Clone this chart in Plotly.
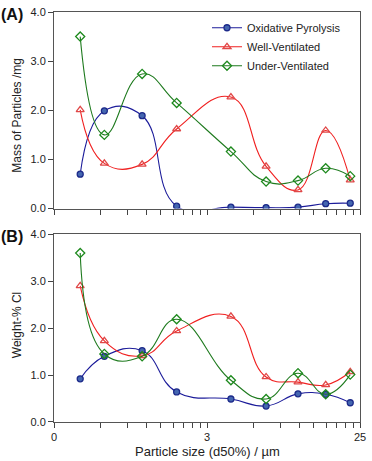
import plotly.graph_objects as go

# Data
sizes = [0.445, 0.64, 1.13, 1.9, 4.3, 7.3, 11.8, 17.9, 25.9]

mass_oxidative = [0.70, 1.99, 1.89, 0.05, 0.03, 0.02, 0.03, 0.10, 0.11]
mass_well = [2.01, 0.92, 0.90, 1.62, 2.27, 0.86, 0.38, 1.59, 0.58]
mass_under = [3.50, 1.50, 2.74, 2.15, 1.16, 0.55, 0.57, 0.82, 0.66]

cl_oxidative = [0.92, 1.40, 1.52, 0.64, 0.49, 0.34, 0.60, 0.59, 0.41]
cl_well = [2.90, 1.73, 1.41, 1.94, 2.25, 0.96, 0.85, 0.79, 1.07]
cl_under = [3.60, 1.45, 1.40, 2.19, 0.89, 0.49, 1.04, 0.59, 1.01]

series_names = ["Oxidative Pyrolysis", "Well-Ventilated", "Under-Ventilated"]
y_ticks = [0, 1, 2, 3, 4]
y_tick_text = ["0.0", "1.0", "2.0", "3.0", "4.0"]
x_major = [0.3, 3, 30]
x_major_text = ["0", "3", "25"]
x_minor = [0.6, 0.9, 1.2, 1.5, 1.8, 2.1, 2.4, 2.7, 6, 9, 12, 15, 18, 21, 24, 27]

styles = [
    dict(color="#1c1c9a", marker=dict(symbol="circle", size=6, color="#4466b0",
                                      line=dict(color="#1c2a8a", width=1.3))),
    dict(color="#f02020", marker=dict(symbol="triangle-up-open", size=7, color="#e04848",
                                      line=dict(width=1.3))),
    dict(color="#1e7a1e", marker=dict(symbol="diamond-open", size=7, color="#1e8a1e",
                                      line=dict(width=1.3))),
]

fig = go.Figure()
top = [mass_oxidative, mass_well, mass_under]
bot = [cl_oxidative, cl_well, cl_under]
for i, (name, st) in enumerate(zip(series_names, styles)):
    fig.add_trace(go.Scatter(
        x=sizes, y=top[i], name=name, mode="lines+markers",
        line=dict(color=st["color"], width=1.1, shape="spline", smoothing=1.3),
        marker=st["marker"], xaxis="x", yaxis="y", showlegend=True))
    fig.add_trace(go.Scatter(
        x=sizes, y=bot[i], name=name, mode="lines+markers",
        line=dict(color=st["color"], width=1.1, shape="spline", smoothing=1.3),
        marker=st["marker"], xaxis="x2", yaxis="y2", showlegend=False))

font = dict(family="Liberation Sans, Arial, sans-serif", size=11, color="#222")
axis_common = dict(showline=True, linecolor="#555", linewidth=1, mirror=True,
                   ticks="outside", ticklen=5, tickcolor="#444", showgrid=False,
                   zeroline=False)

# plot area: x 54..366, y 7..422 (px)
H = 415.0
fig.update_layout(
    width=372, height=461,
    margin=dict(l=54, r=6, t=7, b=39),
    paper_bgcolor="white", plot_bgcolor="white",
    font=font,
    showlegend=True,
    legend=dict(x=0.50, y=0.997, xanchor="left", yanchor="top",
                bgcolor="rgba(0,0,0,0)", font=dict(size=11, color="#222"),
                tracegroupgap=0, itemwidth=30),
    xaxis=dict(type="log", range=[-0.5229, 1.4771], domain=[0, 1], anchor="y",
               tickvals=x_major, ticktext=x_major_text, showticklabels=False,
               minor=dict(tickvals=x_minor, ticks="outside", ticklen=5, tickcolor="#444"),
               **axis_common),
    yaxis=dict(range=[0, 4], domain=[(422 - 206) / H, 1], anchor="x",
               tickvals=y_ticks, ticktext=y_tick_text, **axis_common),
    xaxis2=dict(type="log", range=[-0.5229, 1.4771], domain=[0, 1], anchor="y2",
                tickvals=x_major, ticktext=x_major_text,
                minor=dict(tickvals=x_minor, ticks="outside", ticklen=5, tickcolor="#444"),
                **axis_common),
    yaxis2=dict(range=[0, 4], domain=[0, (422 - 232) / H], anchor="x2",
                tickvals=y_ticks, ticktext=y_tick_text, **axis_common),
)

fig.add_annotation(text="<b>(A)</b>", x=0, y=1, xref="paper", yref="paper",
                   xanchor="left", yanchor="top", xshift=-55, yshift=8,
                   showarrow=False, font=dict(size=16, color="#111"))
fig.add_annotation(text="<b>(B)</b>", x=0, y=(422 - 232) / H, xref="paper", yref="paper",
                   xanchor="left", yanchor="top", xshift=-55, yshift=8,
                   showarrow=False, font=dict(size=16, color="#111"))
fig.add_annotation(text="Mass of Particles /mg", x=0, y=(422 - 112) / H, xref="paper", yref="paper",
                   xanchor="center", yanchor="middle", xshift=-37, textangle=-90,
                   showarrow=False, font=dict(size=12, color="#222"))
fig.add_annotation(text="Weight-% Cl", x=0, y=(422 - 324) / H, xref="paper", yref="paper",
                   xanchor="center", yanchor="middle", xshift=-37, textangle=-90,
                   showarrow=False, font=dict(size=12, color="#222"))
fig.add_annotation(text="Particle size (d50%) / µm", x=0.5, y=0, xref="paper", yref="paper",
                   xanchor="center", yanchor="top", yshift=-20,
                   showarrow=False, font=dict(size=13, color="#222"))

fig.write_html("out.html", config={"displayModeBar": False},
               post_script="document.body.style.margin='0';document.body.style.overflow='hidden';")
